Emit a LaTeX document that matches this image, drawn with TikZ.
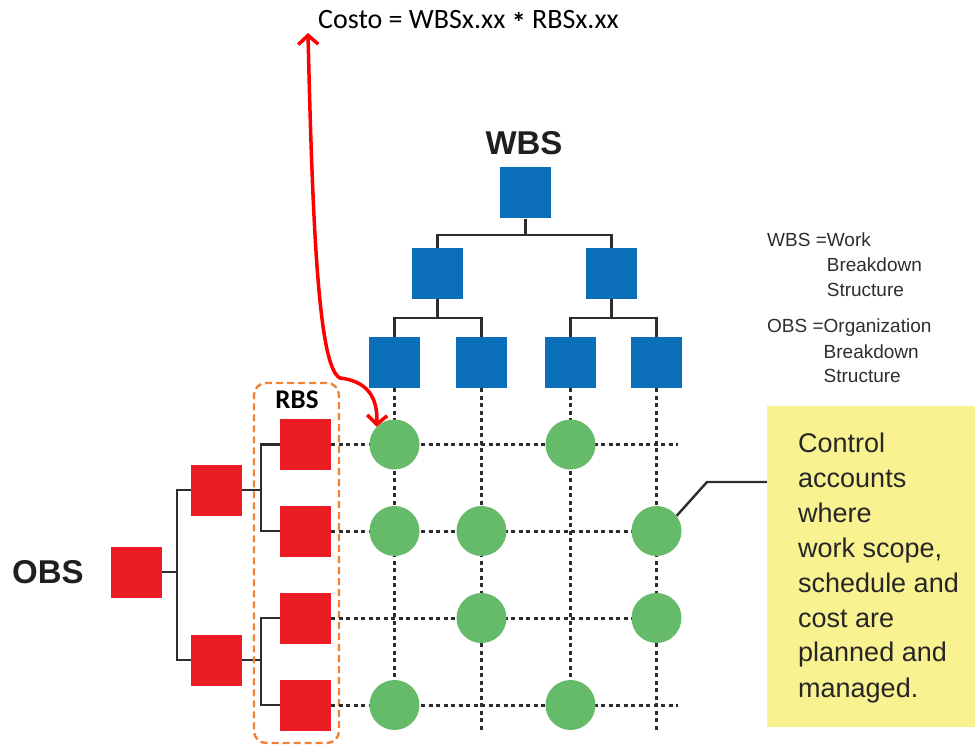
\documentclass[tikz,border=0pt]{standalone}
\usepackage{fontspec}
\setmainfont{Liberation Sans}
\newfontfamily\calib{Carlito}
\usetikzlibrary{arrows.meta}
\definecolor{wbsblue}{RGB}{11,110,186}
\definecolor{obsred}{RGB}{236,28,36}
\definecolor{cagreen}{RGB}{102,187,106}
\definecolor{noteyellow}{RGB}{248,242,145}
\definecolor{rbsorange}{RGB}{240,130,50}
\definecolor{linegray}{RGB}{45,45,45}
\begin{document}
\begin{tikzpicture}[x=1pt,y=-1pt,
  bluebox/.style={rectangle,fill=wbsblue,minimum size=51pt,inner sep=0pt},
  redbox/.style={rectangle,fill=obsred,minimum size=51pt,inner sep=0pt},
  acct/.style={circle,fill=cagreen,minimum size=50pt,inner sep=0pt},
  tree/.style={draw=linegray,line width=2.6pt},
  gridline/.style={draw=linegray,line width=3pt,dash pattern=on 4pt off 3.5pt},
  titlebig/.style={font=\fontsize{33}{38}\selectfont\bfseries,inner sep=0pt,text=black!88},
  rbslabel/.style={font=\calib\fontsize{27}{32}\selectfont\bfseries,inner sep=0pt},
  costotext/.style={font=\calib\fontsize{28}{33}\selectfont,inner sep=0pt},
  legendtext/.style={font=\fontsize{19}{25}\selectfont,inner sep=0pt,text=linegray},
  notetext/.style={font=\fontsize{27}{35}\selectfont,inner sep=0pt,text=black!85},
  redarrow/.style={draw=red,line width=3.5pt,{Straight Barb[length=9pt,width=20pt]}-{Straight Barb[length=9pt,width=20pt]}},
  callout/.style={draw=linegray,line width=2.4pt}
]
\useasboundingbox (0,0) rectangle (978,746);

% titles
\node[titlebig] (wbs) at (524,143) {WBS};
\node[titlebig] (obs) at (48,572) {OBS};
\node[costotext,anchor=base west] (costo) at (318,29) {Costo = WBSx.xx \raisebox{-4pt}{\bfseries *} RBSx.xx};

% WBS tree
\node[bluebox] (w0) at (525.5,193) {};
\node[bluebox] (w1) at (437.5,273.5) {};
\node[bluebox] (w2) at (611.5,273.5) {};
\node[bluebox] (w11) at (394.5,362.5) {};
\node[bluebox] (w12) at (481.5,362.5) {};
\node[bluebox] (w21) at (570.5,362.5) {};
\node[bluebox] (w22) at (656.5,362.5) {};
\coordinate (j0) at (525.5,235);
\coordinate (j1) at (437.5,318);
\coordinate (j2) at (611.5,318);
\draw[tree] (w0.south) -- (j0);
\draw[tree] (w1.north) |- (j0) -| (w2.north);
\draw[tree] (w1.south) -- (j1);
\draw[tree] (w11.north) |- (j1) -| (w12.north);
\draw[tree] (w2.south) -- (j2);
\draw[tree] (w21.north) |- (j2) -| (w22.north);

% OBS tree
\node[redbox] (o0) at (136,572) {};
\node[redbox] (o1) at (216.5,490) {};
\node[redbox] (o2) at (216.5,660) {};
\node[redbox] (r1) at (305.5,444.5) {};
\node[redbox] (r2) at (305.5,531) {};
\node[redbox] (r3) at (305.5,618) {};
\node[redbox] (r4) at (305.5,705) {};
\coordinate (k0) at (177,572);
\coordinate (k1) at (261,490);
\coordinate (k2) at (261,660);
\draw[tree] (o0.east) -- (k0);
\draw[tree] (o1.west) -| (k0) |- (o2.west);
\draw[tree] (o1.east) -- (k1);
\draw[tree] (r1.west) -| (k1) |- (r2.west);
\draw[tree] (o2.east) -- (k2);
\draw[tree] (r3.west) -| (k2) |- (r4.west);

% RBS dashed frame
\node[draw=rbsorange,line width=2.4pt,dash pattern=on 7pt off 4pt,rounded corners=12pt,
      minimum width=85pt,minimum height=360pt,inner sep=0pt] (rbsframe) at (296.5,563) {};
\node[rbslabel] (rbs) at (297,400) {RBS};

% grid lines
\coordinate (gright) at (678,0);
\coordinate (gbottom) at (0,732);
\foreach \r in {r1,r2,r3,r4} {
  \draw[gridline] (\r.east) -- (\r.east -| gright);
}
\foreach \w in {w11,w12,w21,w22} {
  \draw[gridline] (\w.south) -- (\w.south |- gbottom);
}

% control accounts
\node[acct] (c11) at (w11 |- r1) {};
\node[acct] (c13) at (w21 |- r1) {};
\node[acct] (c21) at (w11 |- r2) {};
\node[acct] (c22) at (w12 |- r2) {};
\node[acct] (c24) at (w22 |- r2) {};
\node[acct] (c32) at (w12 |- r3) {};
\node[acct] (c34) at (w22 |- r3) {};
\node[acct] (c41) at (w11 |- r4) {};
\node[acct] (c43) at (w21 |- r4) {};

% legend
\node[legendtext,anchor=base west] (legw) at (767,247)
  {\begin{tabular}[t]{@{}l@{}l@{}}WBS =&Work\\ &Breakdown\\ &Structure\end{tabular}};
\node[legendtext,anchor=base west] (lego) at (767,333)
  {\begin{tabular}[t]{@{}l@{}l@{}}OBS =&Organization\\ &Breakdown\\ &Structure\end{tabular}};

% note box
\node[rectangle,fill=noteyellow,minimum width=208pt,minimum height=321pt,inner sep=0pt] (note) at (871,566.5) {};
\node[notetext,anchor=base west] (notetxt) at (798,452)
  {\begin{tabular}[t]{@{}l@{}}Control\\ accounts\\ where\\ work scope,\\ schedule and\\ cost are\\ planned and\\ managed.\end{tabular}};
\coordinate (kink) at (707,482);
\draw[callout] (c24.37) -- (kink) -- (kink -| note.west);

% red arrow
\coordinate (ctop) at (308,33);
\draw[redarrow] (ctop) .. controls (313,250) and (320,368) .. (340,378)
  .. controls (366,381) and (378,396) .. (c11.135);
\end{tikzpicture}
\end{document}
